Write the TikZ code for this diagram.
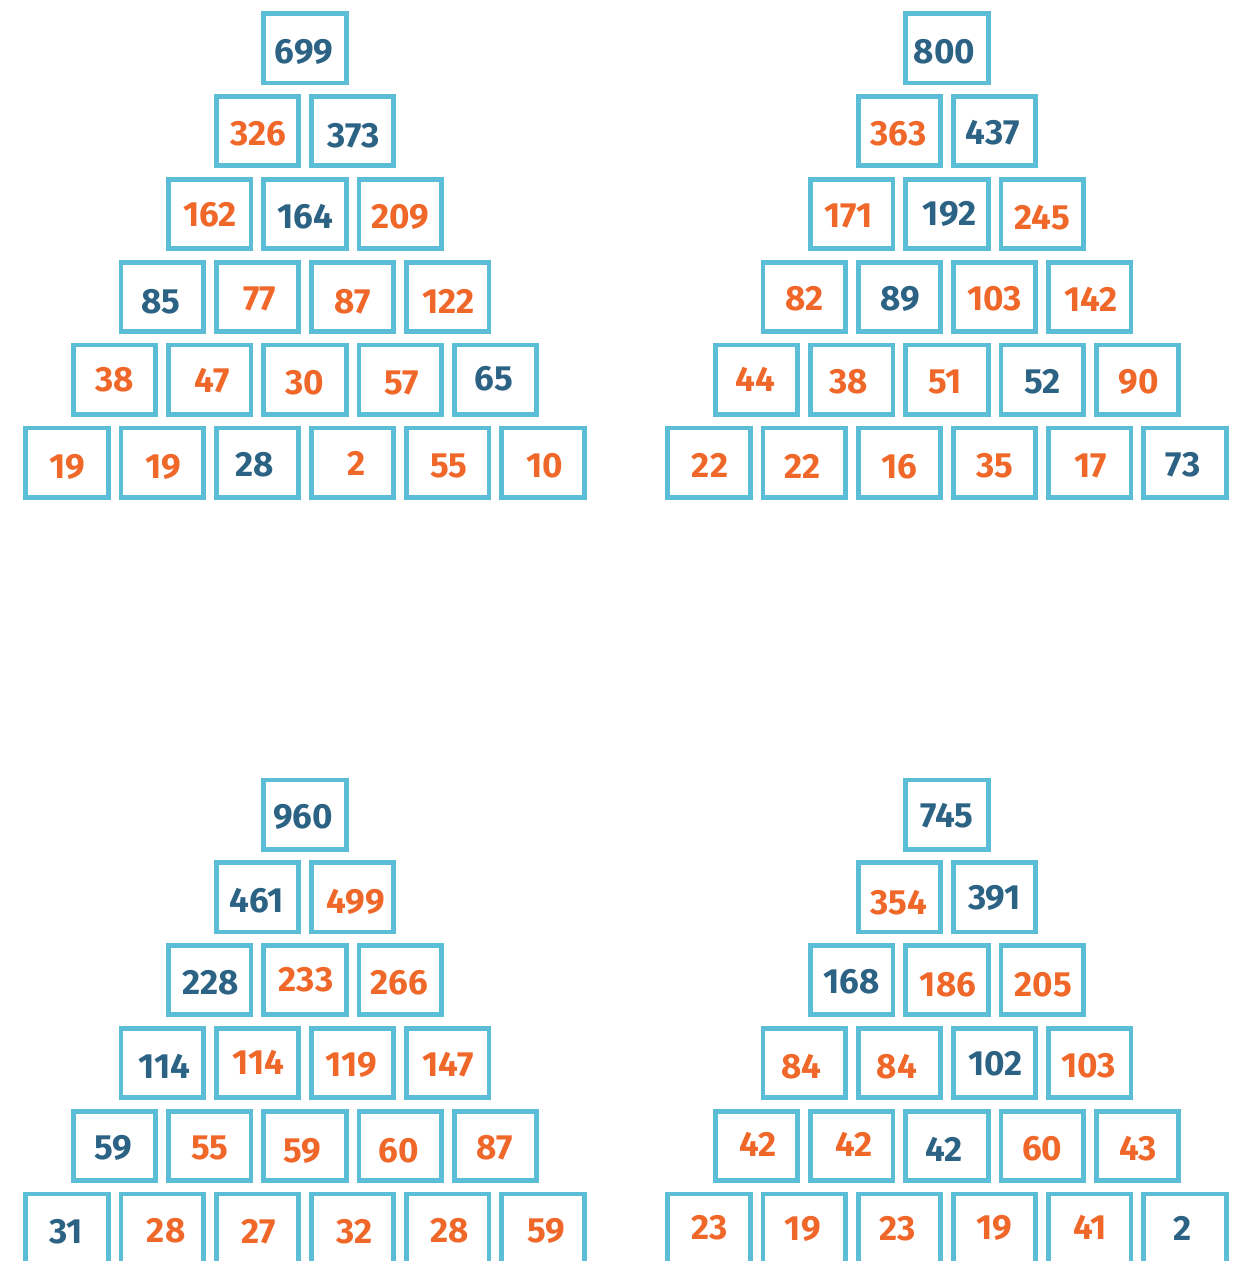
\documentclass[tikz,border=0pt]{standalone}
\usepackage{fontspec}
\setmainfont{Fira Sans}
\definecolor{boxcyan}{HTML}{5BBDD6}
\definecolor{numblue}{HTML}{2C6384}
\definecolor{numorange}{HTML}{F0672A}
\tikzset{
  brick/.style={draw=boxcyan, line width=2.4pt, minimum width=41.2pt, minimum height=34.6pt, inner sep=0pt},
  num/.style={font=\fontsize{17.5}{19}\selectfont\bfseries, inner sep=0pt},
}
% #1 name, #2 centre x, #3 top offset, #4 row/col/value/colour/dx/dy
\newcommand\numpyramid[4]{%
  \foreach \r/\c/\v/\col/\dx/\dy in {#4}{
    \node[brick] (#1-\r-\c) at ({#2+(\c-\r/2)*95.2},{#3+48.5+82.8*\r}) {};
    \node[num, text=\col] (#1-\r-\c-n) at ([shift={(\dx,\dy)}]#1-\r-\c.center) {\v};
  }}

\begin{document}
\begin{tikzpicture}[x=0.5pt, y=-0.5pt]
\useasboundingbox (0,0) rectangle (1239,1261);
% top left
\numpyramid{tl}{305}{0}{0/0/699/numblue/-1/3,
  1/0/326/numorange/1/2, 1/1/373/numblue/1/4,
  2/0/162/numorange/0/1, 2/1/164/numblue/0/3, 2/2/209/numorange/0/3,
  3/0/85/numblue/-1/5, 3/1/77/numorange/2/2, 3/2/87/numorange/0/5, 3/3/122/numorange/1/5,
  4/0/38/numorange/0/0, 4/1/47/numorange/2/1, 4/2/30/numorange/0/3, 4/3/57/numorange/1.5/3, 4/4/65/numblue/-1.5/-1,
  5/0/19/numorange/0/4, 5/1/19/numorange/1/4, 5/2/28/numblue/-3/2, 5/3/2/numorange/4/1, 5/4/55/numorange/1/3, 5/5/10/numorange/2/3}
% top right
\numpyramid{tr}{947}{0}{0/0/800/numblue/-2.5/3,
  1/0/363/numorange/-1/2, 1/1/437/numblue/-2/1,
  2/0/171/numorange/-3/2, 2/1/192/numblue/2.5/0, 2/2/245/numorange/0/4,
  3/0/82/numorange/0/2, 3/1/89/numblue/1/2, 3/2/103/numorange/0/2, 3/3/142/numorange/1/2,
  4/0/44/numorange/-1/0, 4/1/38/numorange/-3/2, 4/2/51/numorange/-2/2, 4/3/52/numblue/0/2, 4/4/90/numorange/1.5/2,
  5/0/22/numorange/1/3, 5/1/22/numorange/-1.5/4, 5/2/16/numorange/0/4, 5/3/35/numorange/0/3, 5/4/17/numorange/1/3, 5/5/73/numblue/-2/2}
% bottom left
\numpyramid{bl}{305}{766}{0/0/960/numblue/-2/2,
  1/0/461/numblue/-1/3, 1/1/499/numorange/3/5,
  2/0/228/numblue/1/3, 2/1/233/numorange/1/0, 2/2/266/numorange/-1/3,
  3/0/114/numblue/2/3, 3/1/114/numorange/1/-1, 3/2/119/numorange/-1/2, 3/3/147/numorange/0/2,
  4/0/59/numblue/-1.5/2, 4/1/55/numorange/0/2, 4/2/59/numorange/-3/5, 4/3/60/numorange/-1.5/5, 4/4/87/numorange/-1/2,
  5/0/31/numblue/-1/3, 5/1/28/numorange/4/2, 5/2/27/numorange/1/3, 5/3/32/numorange/2/3, 5/4/28/numorange/2/2, 5/5/59/numorange/3/2}
% bottom right
\numpyramid{br}{947}{766}{0/0/745/numblue/0/1,
  1/0/354/numorange/-1/5, 1/1/391/numblue/0/1,
  2/0/168/numblue/0/2, 2/1/186/numorange/1/5, 2/2/205/numorange/1/5,
  3/0/84/numorange/-3/4, 3/1/84/numorange/-2.5/4, 3/2/102/numblue/1/1, 3/3/103/numorange/-1/3,
  4/0/42/numorange/1.5/-1, 4/1/42/numorange/2/-1, 4/2/42/numblue/-3/4, 4/3/60/numorange/0/3, 4/4/43/numorange/1/3,
  5/0/23/numorange/1/-1, 5/1/19/numorange/-1.5/0, 5/2/23/numorange/-1.5/0, 5/3/19/numorange/0/-1, 5/4/41/numorange/0/-1, 5/5/2/numblue/-2/0}
\end{tikzpicture}
\end{document}
